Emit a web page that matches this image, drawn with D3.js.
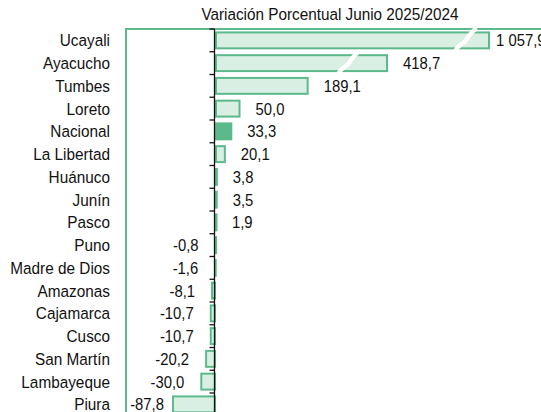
<!DOCTYPE html>
<html><head><meta charset="utf-8">
<script src="https://cdn.jsdelivr.net/npm/d3@7"></script>
<style>
html,body{margin:0;padding:0;background:#fff;}
svg{display:block;font-family:"Liberation Sans",Arial,sans-serif;}
</style></head>
<body>
<script>
const title = "Variación Porcentual Junio 2025/2024";
const categories = ["Ucayali","Ayacucho","Tumbes","Loreto","Nacional","La Libertad","Huánuco","Junín","Pasco","Puno","Madre de Dios","Amazonas","Cajamarca","Cusco","San Martín","Lambayeque","Piura"];
const values = [1057.9, 418.7, 189.1, 50.0, 33.3, 20.1, 3.8, 3.5, 1.9, -0.8, -1.6, -8.1, -10.7, -10.7, -20.2, -30.0, -87.8];
const highlighted = ["Nacional"];
const brokenBars = ["Ucayali","Ayacucho"];

const W = 541, H = 412;
const green = "#5cb98c", light = "#daefe3";
const FS = 16.5, SX = 0.9, SXL = 0.93;   // condensed look
const svg = d3.select("body").append("svg").attr("width", W).attr("height", H);

const fmt = d3.formatLocale({decimal: ",", thousands: " ", grouping: [3], currency: ["", ""], minus: "-"}).format(",.1f");

// piecewise scale with breaks for long bars
const x = d3.scaleLinear().domain([-100, 200, 418.7, 1057.9]).range([166, 313, 387, 489]);
const y = d3.scaleBand().domain(categories).range([29, 29 + 22.75 * 17]).paddingInner(0.3).paddingOuter(0.15);
const data = categories.map((c, i) => ({c, v: values[i]}));

// frame
svg.append("rect").attr("x", 126).attr("y", 29).attr("width", 500).attr("height", 450)
  .attr("fill", "none").attr("stroke", green).attr("stroke-width", 2);

// title
svg.append("text").attr("transform", `translate(330,20) scale(${SX},1)`).attr("text-anchor", "middle")
  .attr("font-size", FS + 0.5).attr("fill", "#111").text(title);

// bars
svg.selectAll("rect.bar").data(data).enter().append("rect").attr("class", "bar")
  .attr("x", d => Math.min(x(0), x(d.v)) + 1)
  .attr("y", d => y(d.c))
  .attr("width", d => Math.max(0.5, Math.abs(x(d.v) - x(0)) - 1))
  .attr("height", y.bandwidth())
  .attr("fill", d => highlighted.includes(d.c) ? green : light)
  .attr("stroke", green).attr("stroke-width", 2);

// break marks
const breakOffset = {"Ucayali": 23, "Ayacucho": 38};
data.filter(d => brokenBars.includes(d.c)).forEach(d => {
  const cx = x(d.v) - breakOffset[d.c], cy = y(d.c) + y.bandwidth() / 2;
  const h = y.bandwidth() / 2 + 4;
  svg.append("path")
    .attr("d", `M${cx - 11},${cy + h} C${cx - 8},${cy + 3} ${cx - 2},${cy + 4} ${cx},${cy} S${cx + 8},${cy - h + 1} ${cx + 11},${cy - h}`)
    .attr("fill", "none").attr("stroke", "#fff").attr("stroke-width", 4.5);
});

// axis line and ticks at band boundaries
const x0 = x(0) - 0.5;
svg.append("line").attr("x1", x0).attr("x2", x0).attr("y1", 29).attr("y2", H)
  .attr("stroke", "#111").attr("stroke-width", 1.3);
const step = y.step();
svg.selectAll("line.tick").data(d3.range(categories.length + 1)).enter().append("line").attr("class", "tick")
  .attr("x1", x0 - 5).attr("x2", x0)
  .attr("y1", i => y.range()[0] + i * step).attr("y2", i => y.range()[0] + i * step)
  .attr("stroke", "#111").attr("stroke-width", 1.3);

// category labels
svg.selectAll("text.cat").data(data).enter().append("text").attr("class", "cat")
  .attr("transform", d => `translate(110,${y(d.c) + y.bandwidth() / 2}) scale(${SXL},1)`).attr("dy", "0.36em")
  .attr("text-anchor", "end").attr("font-size", FS).attr("fill", "#111").text(d => d.c);

// value labels
svg.selectAll("text.val").data(data).enter().append("text").attr("class", "val")
  .attr("transform", d => {
    const tx = d.v >= 0 ? Math.min(x(d.v) + 16, 496) : Math.max(x(d.v) - 16, 164);
    return `translate(${tx},${y(d.c) + y.bandwidth() / 2}) scale(${SX},1)`;
  })
  .attr("dy", "0.36em")
  .attr("text-anchor", d => d.v >= 0 ? "start" : "end")
  .attr("font-size", FS).attr("fill", "#111").text(d => fmt(d.v));
</script>
</body></html>
